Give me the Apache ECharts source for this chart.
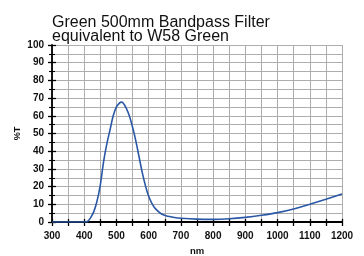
<!DOCTYPE html>
<html><head><meta charset="utf-8">
<script src="https://cdn.jsdelivr.net/npm/echarts@6/dist/echarts.min.js"></script>
<style>html,body{margin:0;padding:0;background:#fff;}#c{width:364px;height:256px;}</style>
</head><body><div id="c"></div>
<script>
const titleText = 'Green 500mm Bandpass Filter\nequivalent to W58 Green';
const xLabel = 'nm';
const yLabel = '%T';
const wavelengths = [300, 400, 410, 420, 430, 440, 450, 460, 470, 480, 490, 500, 510, 515, 520, 530, 540, 550, 560, 570, 580, 590, 600, 610, 620, 640, 660, 680, 700, 750, 800, 850, 900, 950, 1000, 1050, 1100, 1150, 1200];
const transmission = [0, 0, 0.3, 2.5, 6, 12, 21, 34, 44, 52, 60, 65, 67.3, 67.7, 67.4, 64.5, 60, 53.5, 46, 37, 28, 20.5, 14.5, 10.5, 7.7, 4.5, 3.2, 2.5, 2.1, 1.6, 1.5, 1.8, 2.6, 3.8, 5.3, 7.4, 10, 12.8, 15.8];
const xMin = 300, xMax = 1200, xStep = 50;
const yMin = 0, yMax = 100, yStep = 10;

const chart = echarts.init(document.getElementById('c'), null, {renderer: 'canvas'});
const font = 'Liberation Sans, Arial, sans-serif';
const grid = {left: 52, right: 22, top: 45, bottom: 34, containLabel: false, outerBoundsMode: 'none'};
chart.setOption({
  animation: false,
  title: {
    text: titleText, left: 47, top: 11,
    textStyle: {fontFamily: font, fontSize: 16, fontWeight: 'normal', color: '#111', lineHeight: 13.5}
  },
  grid: grid,
  xAxis: [{
    type: 'value', min: xMin, max: xMax, interval: xStep,
    name: xLabel, nameLocation: 'middle', nameGap: 24, nameMoveOverlap: false,
    nameTextStyle: {fontFamily: font, fontSize: 9.5, fontWeight: 'bold', color: '#111'},
    axisLine: {show: true, lineStyle: {color: '#000', width: 1.8}},
    axisTick: {show: true, length: 4, lineStyle: {color: '#000', width: 1.3}},
    axisLabel: {fontFamily: font, fontSize: 10, fontWeight: 'bold', color: '#111', margin: 9,
      formatter: v => (v % 100 === 0 ? String(v) : '')},
    splitLine: {show: true, lineStyle: {color: '#adadad', width: 1}}
  }, {
    type: 'value', min: xMin, max: xMax, interval: xStep, position: 'bottom',
    axisLine: {show: false},
    axisTick: {show: true, inside: true, length: 3, lineStyle: {color: '#000', width: 1.3}},
    axisLabel: {show: false}, splitLine: {show: false}
  }],
  yAxis: [{
    type: 'value', min: yMin, max: yMax, interval: yStep,
    name: yLabel, nameLocation: 'middle', nameGap: 30, nameRotate: 90, nameMoveOverlap: false,
    nameTextStyle: {fontFamily: font, fontSize: 9, fontWeight: 'bold', color: '#111'},
    axisLine: {show: true, lineStyle: {color: '#000', width: 1.8}},
    axisTick: {show: true, length: 4, lineStyle: {color: '#000', width: 1.3}},
    minorTick: {show: true, splitNumber: 2, length: 3, lineStyle: {color: '#000', width: 1.1}},
    minorSplitLine: {show: true, lineStyle: {color: '#adadad', width: 1}},
    axisLabel: {fontFamily: font, fontSize: 10, fontWeight: 'bold', color: '#111', margin: 8},
    splitLine: {show: true, lineStyle: {color: '#adadad', width: 1}}
  }, {
    type: 'value', min: yMin, max: yMax, interval: yStep, position: 'left',
    axisLine: {show: false},
    axisTick: {show: true, inside: true, length: 4, lineStyle: {color: '#000', width: 1.3}},
    minorTick: {show: true, splitNumber: 2, length: 3, lineStyle: {color: '#000', width: 1.1}},
    axisLabel: {show: false}, splitLine: {show: false}
  }],
  series: [{
    type: 'line', xAxisIndex: 0, yAxisIndex: 0,
    data: wavelengths.map((w, i) => [w, transmission[i]]),
    smooth: 0.3, showSymbol: false,
    lineStyle: {color: '#2a58a6', width: 1.6}
  }]
});
</script></body></html>
